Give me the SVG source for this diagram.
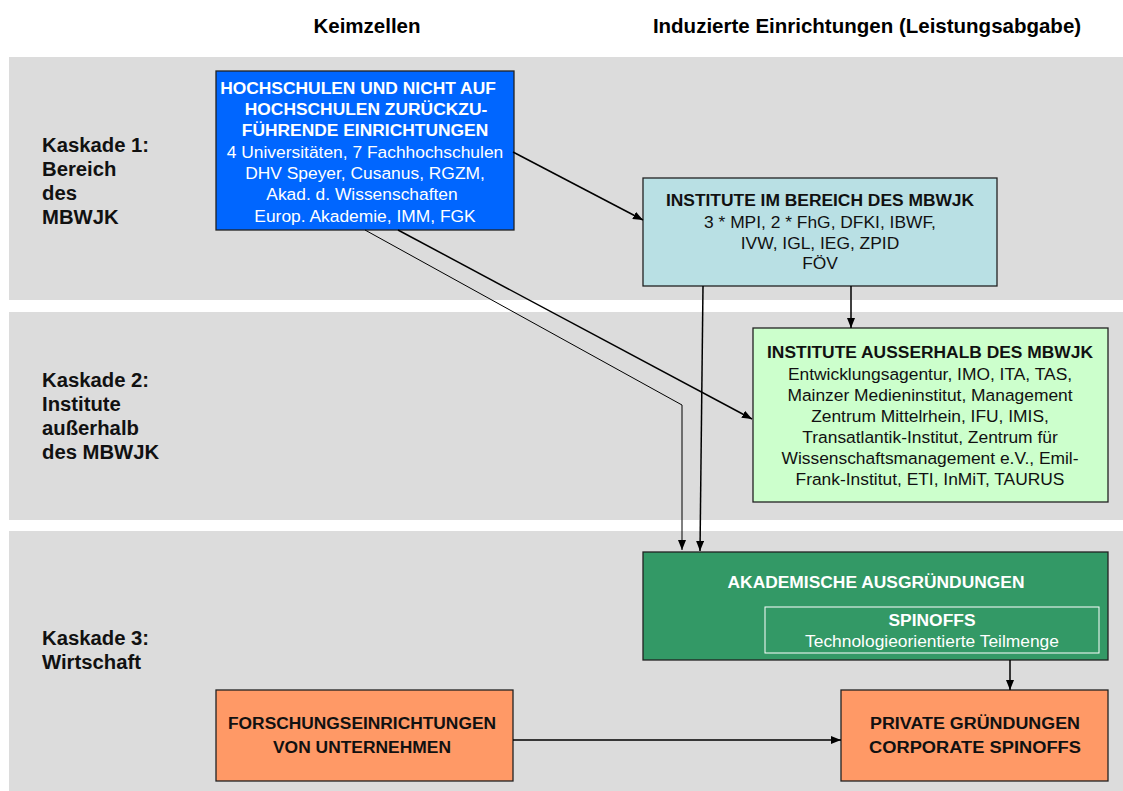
<svg xmlns="http://www.w3.org/2000/svg" width="1123" height="791" viewBox="0 0 1123 791">
<style>
text{font-family:"Liberation Sans",Arial,sans-serif;text-anchor:middle}
.h{font-size:20.5px;font-weight:bold;fill:#000}
.k{font-size:20.3px;font-weight:bold;fill:#111;text-anchor:start}
.b{font-size:17.4px;font-weight:bold}
.r{font-size:17.4px}
.w{fill:#fff}
.d{fill:#111}
.band{fill:#dcdcdc}
.box{stroke:#222;stroke-width:1.3}
.ln{stroke:#000;stroke-width:1.5;fill:none}
.tn{stroke:#000;stroke-width:1;fill:none}
</style>
<defs>
<marker id="ah" viewBox="0 0 10 8" refX="10" refY="4" markerWidth="10" markerHeight="8" markerUnits="userSpaceOnUse" orient="auto">
<path d="M0,0 L10,4 L0,8 z" fill="#000"/>
</marker>
</defs>
<rect width="1123" height="791" fill="#fff"/>
<g id="bands">
<rect class="band" x="9" y="57" width="1114" height="243"/>
<rect class="band" x="9" y="312" width="1114" height="208"/>
<rect class="band" x="9" y="531" width="1114" height="260"/>
</g>
<g id="headers">
<text class="h" x="367" y="33">Keimzellen</text>
<text class="h" x="867" y="33">Induzierte Einrichtungen (Leistungsabgabe)</text>
</g>
<g id="kaskade1">
<text class="k" x="42" y="152">Kaskade 1:</text>
<text class="k" x="42" y="176">Bereich</text>
<text class="k" x="42" y="200">des</text>
<text class="k" x="42" y="224">MBWJK</text>
</g>
<g id="kaskade2">
<text class="k" x="42" y="387">Kaskade 2:</text>
<text class="k" x="42" y="411">Institute</text>
<text class="k" x="42" y="435">außerhalb</text>
<text class="k" x="42" y="459">des MBWJK</text>
</g>
<g id="kaskade3">
<text class="k" x="42" y="645">Kaskade 3:</text>
<text class="k" x="42" y="669">Wirtschaft</text>
</g>
<g id="hochschulen">
<rect class="box" x="216" y="71" width="298" height="159" fill="#0066ff"/>
<text class="b w" x="358" y="94">HOCHSCHULEN UND NICHT AUF</text>
<text class="b w" x="366" y="115">HOCHSCHULEN ZURÜCKZU-</text>
<text class="b w" x="365" y="136">FÜHRENDE EINRICHTUNGEN</text>
<text class="r w" x="365" y="158">4 Universitäten, 7 Fachhochschulen</text>
<text class="r w" x="365" y="179">DHV Speyer, Cusanus, RGZM,</text>
<text class="r w" x="362" y="200">Akad. d. Wissenschaften</text>
<text class="r w" x="365" y="222">Europ. Akademie, IMM, FGK</text>
</g>
<g id="institute-mbwjk">
<rect class="box" x="643" y="178" width="354" height="108" fill="#b9e0e4"/>
<text class="b d" x="820" y="206">INSTITUTE IM BEREICH DES MBWJK</text>
<text class="r d" x="820" y="228">3 * MPI, 2 * FhG, DFKI, IBWF,</text>
<text class="r d" x="820" y="249">IVW, IGL, IEG, ZPID</text>
<text class="r d" x="820" y="269">FÖV</text>
</g>
<g id="institute-ausserhalb">
<rect class="box" x="753" y="328" width="355" height="174" fill="#ccffcc"/>
<text class="b d" x="930" y="358">INSTITUTE AUSSERHALB DES MBWJK</text>
<text class="r d" x="930" y="380">Entwicklungsagentur, IMO, ITA, TAS,</text>
<text class="r d" x="930" y="401">Mainzer Medieninstitut, Management</text>
<text class="r d" x="930" y="422">Zentrum Mittelrhein, IFU, IMIS,</text>
<text class="r d" x="930" y="443">Transatlantik-Institut, Zentrum für</text>
<text class="r d" x="930" y="464">Wissenschaftsmanagement e.V., Emil-</text>
<text class="r d" x="930" y="485">Frank-Institut, ETI, InMiT, TAURUS</text>
</g>
<g id="akademische">
<rect class="box" x="643" y="552" width="465" height="108" fill="#339966"/>
<text class="b w" x="876" y="588">AKADEMISCHE AUSGRÜNDUNGEN</text>
</g>
<g id="spinoffs">
<rect x="765" y="607" width="334" height="46" fill="none" stroke="#fff" stroke-width="1"/>
<text class="b w" x="932" y="626">SPINOFFS</text>
<text class="r w" x="932" y="647">Technologieorientierte Teilmenge</text>
</g>
<g id="forschung">
<rect class="box" x="216" y="690" width="297" height="91" fill="#ff9966"/>
<text class="b d" x="362" y="729" textLength="268" lengthAdjust="spacingAndGlyphs">FORSCHUNGSEINRICHTUNGEN</text>
<text class="b d" x="362" y="753" textLength="178" lengthAdjust="spacingAndGlyphs">VON UNTERNEHMEN</text>
</g>
<g id="private">
<rect class="box" x="841" y="690" width="267" height="91" fill="#ff9966"/>
<text class="b d" x="975" y="729" textLength="210" lengthAdjust="spacingAndGlyphs">PRIVATE GRÜNDUNGEN</text>
<text class="b d" x="975" y="753" textLength="212" lengthAdjust="spacingAndGlyphs">CORPORATE SPINOFFS</text>
</g>
<g id="connectors">
<line class="ln" x1="513" y1="152" x2="643" y2="220" marker-end="url(#ah)"/>
<line class="ln" x1="398" y1="230" x2="752" y2="419" marker-end="url(#ah)"/>
<polyline class="tn" points="365,230 682,405 682,550" marker-end="url(#ah)"/>
<line class="ln" x1="703" y1="286" x2="700" y2="551" marker-end="url(#ah)"/>
<line class="ln" x1="851" y1="286" x2="851" y2="328" marker-end="url(#ah)"/>
<line class="ln" x1="1010" y1="660" x2="1010" y2="690" marker-end="url(#ah)"/>
<line class="ln" x1="513" y1="740" x2="841" y2="740" marker-end="url(#ah)"/>
</g>
</svg>
